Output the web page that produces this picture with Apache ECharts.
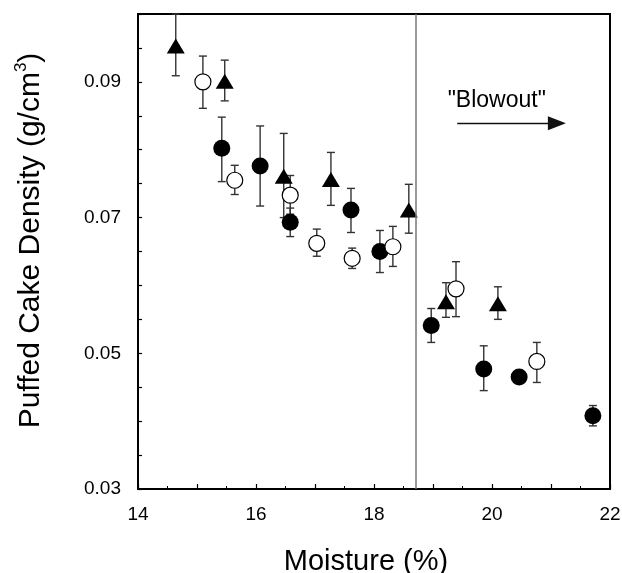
<!DOCTYPE html>
<html>
<head>
<meta charset="utf-8">
<script src="https://cdn.jsdelivr.net/npm/echarts@6/dist/echarts.min.js"></script>
<style>
  html, body { margin: 0; padding: 0; background: #fff; }
  #main { width: 622px; height: 573px; }
</style>
</head>
<body>
<div id="main"></div>
<script>
// [moisture, density, lower, upper]
var filled = [
  [15.42, 0.0802, 0.0753, 0.0848],
  [16.07, 0.0776, 0.0717, 0.0835],
  [16.58, 0.0693, 0.0672, 0.0714],
  [17.61, 0.0711, 0.0678, 0.0743],
  [18.10, 0.0650, 0.0619, 0.0681],
  [18.97, 0.0541, 0.0516, 0.0566],
  [19.86, 0.0477, 0.0445, 0.0511],
  [20.46, 0.0465, 0.0465, 0.0465],
  [21.71, 0.0408, 0.0393, 0.0423]
];
var open = [
  [15.10, 0.0900, 0.0861, 0.0938],
  [15.64, 0.0755, 0.0734, 0.0777],
  [16.58, 0.0733, 0.0705, 0.0762],
  [17.03, 0.0662, 0.0643, 0.0683],
  [17.63, 0.0640, 0.0625, 0.0655],
  [18.32, 0.0657, 0.0628, 0.0687],
  [19.39, 0.0595, 0.0554, 0.0635],
  [20.76, 0.0488, 0.0457, 0.0516]
];
var tri = [
  [14.64, 0.0953, 0.0909, 0.1000],
  [15.47, 0.0901, 0.0872, 0.0932],
  [16.47, 0.0761, 0.0700, 0.0824],
  [17.27, 0.0756, 0.0718, 0.0796],
  [18.59, 0.0711, 0.0677, 0.0749],
  [19.22, 0.0576, 0.0553, 0.0604],
  [20.10, 0.0573, 0.0550, 0.0598]
];
var xLabels = [14, 16, 18, 20, 22];
var yLabels = [0.03, 0.05, 0.07, 0.09];
var blowoutX = 18.7;
var arrowFrom = [19.41, 0.0839];
var arrowTo = [21.1, 0.0839];

var font = 'Arial, "Liberation Sans", sans-serif';

// error bars: vertical line + caps
function errBar(params, api) {
  var x = api.value(0);
  var lo = api.coord([x, api.value(2)]);
  var hi = api.coord([x, api.value(3)]);
  var w = 4;
  var st = { stroke: '#333', lineWidth: 1.4 };
  return {
    type: 'group',
    children: [
      { type: 'line', shape: { x1: lo[0], y1: lo[1], x2: hi[0], y2: hi[1] }, style: st },
      { type: 'line', shape: { x1: lo[0] - w, y1: lo[1], x2: lo[0] + w, y2: lo[1] }, style: st },
      { type: 'line', shape: { x1: hi[0] - w, y1: hi[1], x2: hi[0] + w, y2: hi[1] }, style: st }
    ]
  };
}

function near(list, v) {
  for (var i = 0; i < list.length; i++) {
    if (Math.abs(list[i] - v) < 1e-6) return true;
  }
  return false;
}

var myChart = echarts.init(document.getElementById('main'));

var option = {
  animation: false,
  textStyle: { fontFamily: font },
  grid: {
    left: 138, right: 12, top: 14, bottom: 84,
    outerBoundsMode: 'none', containLabel: false,
    show: true, borderColor: '#000', borderWidth: 2
  },
  xAxis: {
    type: 'value', min: 14, max: 22, interval: 1,
    name: 'Moisture (%)', nameLocation: 'middle', nameGap: 58,
    nameTextStyle: { fontSize: 29, color: '#000', fontFamily: font, padding: [0, 16, 0, 0] },
    axisLine: { lineStyle: { color: '#000', width: 2 } },
    axisTick: { inside: true, length: 5, lineStyle: { color: '#000', width: 1.2 } },
    minorTick: { show: true, splitNumber: 2, length: 3, lineStyle: { color: '#000', width: 1 } },
    axisLabel: {
      fontSize: 19, color: '#000', margin: 16,
      formatter: function (v) { return near(xLabels, v) ? String(v) : ''; }
    },
    splitLine: { show: false }
  },
  yAxis: {
    type: 'value', min: 0.03, max: 0.10, interval: 0.01,
    name: '{a|Puffed Cake Density (g/cm}{s|3}{a|)}',
    nameLocation: 'middle', nameGap: 92, nameRotate: 90,
    nameTextStyle: {
      color: '#000', fontFamily: font, padding: [0, 0, 0, 22],
      rich: {
        a: { fontSize: 30, color: '#000', fontFamily: font, verticalAlign: 'bottom' },
        s: { fontSize: 17, color: '#000', fontFamily: font, verticalAlign: 'bottom', padding: [0, 0, 16, 0] }
      }
    },
    axisLine: { lineStyle: { color: '#000', width: 2 } },
    axisTick: { inside: true, length: 4, lineStyle: { color: '#000', width: 1.2 } },
    minorTick: { show: true, splitNumber: 2, length: 4, lineStyle: { color: '#000', width: 1.2 } },
    axisLabel: {
      fontSize: 19, color: '#000', margin: 17,
      formatter: function (v) { return near(yLabels, v) ? v.toFixed(2) : ''; }
    },
    splitLine: { show: false }
  },
  series: [
    {
      type: 'custom', renderItem: errBar, data: filled, z: 1, silent: true,
      markLine: {
        silent: true, symbol: 'none', label: { show: false },
        lineStyle: { color: '#777', width: 1.5, type: 'solid' },
        data: [{ xAxis: blowoutX }]
      }
    },
    { type: 'custom', renderItem: errBar, data: open, z: 1, silent: true },
    {
      type: 'custom', renderItem: errBar, data: tri, z: 1, silent: true,
      markLine: {
        silent: true, symbol: ['none', 'triangle'], symbolSize: [14, 18],
        label: { show: false },
        lineStyle: { color: '#111', width: 1.3, type: 'solid' },
        data: [[{ coord: arrowFrom }, { coord: arrowTo }]]
      }
    },
    {
      type: 'scatter', data: filled, z: 3, symbol: 'circle', symbolSize: 17,
      itemStyle: { color: '#000', opacity: 1 }
    },
    {
      type: 'scatter', data: open, z: 3, symbol: 'circle', symbolSize: 16,
      itemStyle: { color: '#fff', borderColor: '#000', borderWidth: 1.2, opacity: 1 }
    },
    {
      type: 'scatter', data: tri, z: 3, symbol: 'triangle', symbolSize: [18, 15],
      itemStyle: { color: '#000', opacity: 1 }
    }
  ]
};

myChart.setOption(option);

// "Blowout" label placed in data coordinates
var tp = myChart.convertToPixel({ gridIndex: 0 }, [20.08, 0.0872]);
myChart.setOption({
  graphic: [{
    type: 'text', x: tp[0], y: tp[1],
    style: {
      text: '"Blowout"', fill: '#000', font: '23px ' + font,
      textAlign: 'center', textVerticalAlign: 'middle'
    }
  }]
});

window.addEventListener('resize', function () { myChart.resize(); });
</script>
</body>
</html>
